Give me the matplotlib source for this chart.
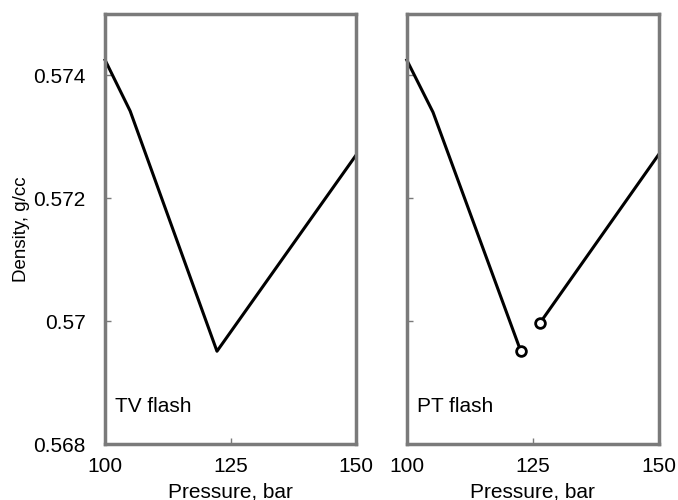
import matplotlib
matplotlib.use("Agg")
import matplotlib.pyplot as plt

plt.rcParams["font.family"] = ["Liberation Sans", "DejaVu Sans"]

# TV flash: continuous curve
tv_p = [100, 105.0, 122.3, 150]
tv_rho = [0.57425, 0.57342, 0.56951, 0.57270]

# PT flash: two branches with a jump
pt_p1 = [100, 105.2, 122.6]
pt_rho1 = [0.57425, 0.57340, 0.56951]
pt_p2 = [126.4, 150]
pt_rho2 = [0.56997, 0.57272]

xticks = [100, 125, 150]
yticks = [0.568, 0.570, 0.572, 0.574]
ylabels = ["0.568", "0.57", "0.572", "0.574"]

fig = plt.figure(figsize=(6.78, 5.0), dpi=100)
ax1 = fig.add_axes([0.155, 0.112, 0.370, 0.860])
ax2 = fig.add_axes([0.600, 0.112, 0.372, 0.860])

frame = "#7a7a7a"
for ax in (ax1, ax2):
    ax.set_xlim(100, 150)
    ax.set_ylim(0.568, 0.575)
    ax.set_xticks(xticks)
    ax.set_xticklabels([str(t) for t in xticks], fontsize=15)
    ax.set_yticks(yticks)
    ax.tick_params(direction="in", length=4, width=1, color=frame)
    ax.tick_params(axis="x", pad=9)
    ax.tick_params(axis="y", pad=14)
    for s in ax.spines.values():
        s.set_color(frame)
        s.set_linewidth(2.5)
    ax.set_xlabel("Pressure, bar", fontsize=15, labelpad=5)

ax1.set_yticklabels(ylabels, fontsize=15)
ax1.set_ylabel("Density, g/cc", fontsize=13.5, labelpad=2)
ax2.set_yticklabels([])

ax1.plot(tv_p, tv_rho, color="black", lw=2.2, clip_on=False)
ax2.plot(pt_p1, pt_rho1, color="black", lw=2.2, clip_on=False)
ax2.plot(pt_p2, pt_rho2, color="black", lw=2.2, clip_on=False)
ax2.plot([pt_p1[-1], pt_p2[0]], [pt_rho1[-1], pt_rho2[0]], "o", ms=7,
         mfc="white", mec="black", mew=2, zorder=5)

ax1.text(0.04, 0.075, "TV flash", transform=ax1.transAxes, fontsize=15)
ax2.text(0.04, 0.075, "PT flash", transform=ax2.transAxes, fontsize=15)

fig.savefig("out.png", dpi=100)
